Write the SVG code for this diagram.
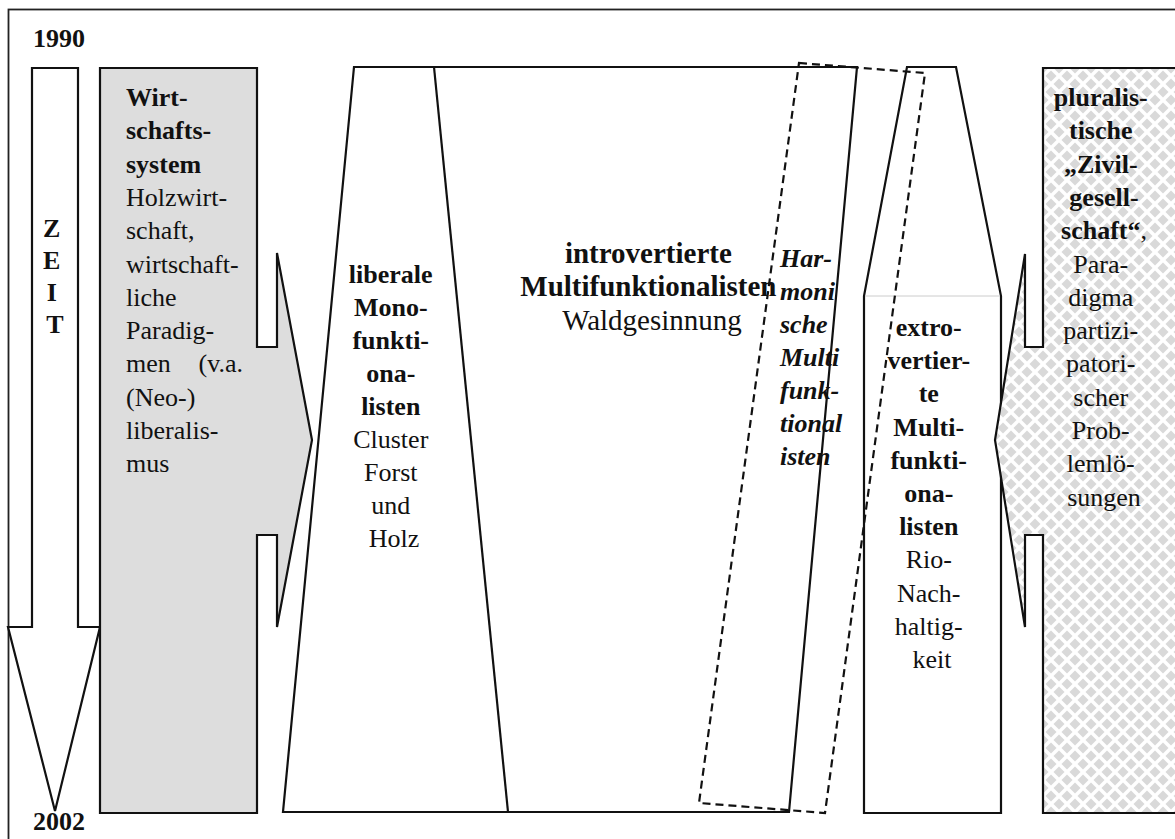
<svg xmlns="http://www.w3.org/2000/svg" width="1175" height="839" viewBox="0 0 1175 839">
  <defs>
    <style>
      .t { font-family: "Liberation Serif", "Tinos", "Times New Roman", serif; font-size: 26px; fill: #111; }
      .big { font-size: 29px; }
      .b { font-weight: bold; }
      .bi { font-weight: bold; font-style: italic; }
      .n { font-weight: normal; }
      .mid { text-anchor: middle; }
      .shape { stroke: #111; stroke-width: 2.2; stroke-linejoin: miter; }
      .dash { fill: none; stroke: #111; stroke-width: 2.2; stroke-dasharray: 8 5; }
    </style>
    <!-- light grey diamond lattice used for the civil-society column -->
    <pattern id="diamonds" x="1043" y="68" width="16" height="16" patternUnits="userSpaceOnUse">
      <rect width="16" height="16" fill="#ffffff"/>
      <path d="M8 2.5 L13.5 8 L8 13.5 L2.5 8 Z M0 0 L5.5 0 L0 5.5 Z M16 0 L10.5 0 L16 5.5 Z M0 16 L5.5 16 L0 10.5 Z M16 16 L10.5 16 L16 10.5 Z" fill="#d9d9d9"/>
    </pattern>
  </defs>

  <rect width="1175" height="839" fill="#ffffff"/>

  <!-- outer frame -->
  <g id="frame">
    <rect x="8.5" y="9.5" width="1200" height="900" fill="none" stroke="#222" stroke-width="1.8"/>
  </g>

  <!-- time axis -->
  <g id="zeit">
    <polygon class="shape" fill="#ffffff" points="32,68 78,68 78,627 100,627 55,811 8,627 32,627"/>
    <text class="t b mid">
      <tspan x="55" y="237">Z</tspan>
      <tspan x="55" y="269">E</tspan>
      <tspan x="55" y="301">I</tspan>
      <tspan x="55" y="333">T</tspan>
    </text>
    <text class="t b" x="33" y="47">1990</text>
    <text class="t b" x="33" y="830">2002</text>
  </g>

  <!-- economic system with arrow to the right -->
  <g id="wirtschaftssystem">
    <path class="shape" fill="#dddddd" d="M100 68 H257 V347 H277 V253 L312 440 L277 627 V535 H257 V813 H100 Z"/>
    <text class="t" x="126" y="106">
      <tspan class="b" x="126" y="106">Wirt-</tspan>
      <tspan class="b" x="126" y="139.3">schafts-</tspan>
      <tspan class="b" x="126" y="172.6">system</tspan>
      <tspan x="126" y="205.9">Holzwirt-</tspan>
      <tspan x="126" y="239.2">schaft,</tspan>
      <tspan x="126" y="272.5">wirtschaft-</tspan>
      <tspan x="126" y="305.8">liche</tspan>
      <tspan x="126" y="339.1">Paradig-</tspan>
      <tspan x="126" y="372.4">men</tspan>
      <tspan x="126" y="405.7">(Neo-)</tspan>
      <tspan x="126" y="439">liberalis-</tspan>
      <tspan x="126" y="472.3">mus</tspan>
    </text>
    <text class="t" x="243" y="372.4" text-anchor="end">(v.a.</text>
  </g>

  <!-- multifunctional block with liberal mono-functional wedge -->
  <g id="introvertierte">
    <polygon class="shape" fill="#ffffff" points="354,67 857,67 789,812 283,812"/>
    <text class="t big mid">
      <tspan class="b" x="652" y="263">introvertierte</tspan>
      <tspan class="b" x="652" y="296.3">Multifunktionalisten</tspan>
      <tspan x="652" y="329.6">Waldgesinnung</tspan>
    </text>
  </g>

  <g id="liberale">
    <line class="shape" x1="434" y1="67" x2="508" y2="812"/>
    <text class="t mid">
      <tspan class="b" x="394" y="283">liberale</tspan>
      <tspan class="b" x="394" y="316">Mono-</tspan>
      <tspan class="b" x="394" y="349">funkti-</tspan>
      <tspan class="b" x="394" y="382">ona-</tspan>
      <tspan class="b" x="394" y="415">listen</tspan>
      <tspan x="394" y="448">Cluster</tspan>
      <tspan x="394" y="481">Forst</tspan>
      <tspan x="394" y="514">und</tspan>
      <tspan x="394" y="547">Holz</tspan>
    </text>
  </g>

  <!-- extroverted multifunctionalists -->
  <g id="extrovertierte">
    <polygon class="shape" fill="#ffffff" points="907,67 956,67 1001,296 1001,813 864,813 864,296"/>
    <line x1="865" y1="296" x2="1000" y2="296" stroke="#cccccc" stroke-width="1"/>
    <text class="t mid">
      <tspan class="b" x="932" y="336">extro-</tspan>
      <tspan class="b" x="932" y="369.2">vertier-</tspan>
      <tspan class="b" x="932" y="402.4">te</tspan>
      <tspan class="b" x="932" y="435.6">Multi-</tspan>
      <tspan class="b" x="932" y="468.8">funkti-</tspan>
      <tspan class="b" x="932" y="502">ona-</tspan>
      <tspan class="b" x="932" y="535.2">listen</tspan>
      <tspan x="932" y="568.4">Rio-</tspan>
      <tspan x="932" y="601.6">Nach-</tspan>
      <tspan x="932" y="634.8">haltig-</tspan>
      <tspan x="932" y="668">keit</tspan>
    </text>
  </g>

  <!-- pluralistic civil society with arrow to the left -->
  <g id="zivilgesellschaft">
    <path class="shape" fill="url(#diamonds)" d="M1043 68 H1200 V813 H1043 V535 H1025 V627 L995 440 L1025 254 V347 H1043 Z"/>
    <text class="t mid">
      <tspan class="b" x="1104" y="106">pluralis-</tspan>
      <tspan class="b" x="1104" y="139.3">tische</tspan>
      <tspan class="b" x="1104" y="172.6">„Zivil-</tspan>
      <tspan class="b" x="1104" y="205.9">gesell-</tspan>
    </text>
    <text class="t mid" x="1104" y="239.2"><tspan class="b">schaft“</tspan><tspan class="n">,</tspan></text>
    <text class="t mid">
      <tspan x="1104" y="272.5">Para-</tspan>
      <tspan x="1104" y="305.8">digma</tspan>
      <tspan x="1104" y="339.1">partizi-</tspan>
      <tspan x="1104" y="372.4">patori-</tspan>
      <tspan x="1104" y="405.7">scher</tspan>
      <tspan x="1104" y="439">Prob-</tspan>
      <tspan x="1104" y="472.3">lemlö-</tspan>
      <tspan x="1104" y="505.6">sungen</tspan>
    </text>
  </g>

  <!-- harmonic multifunctionalists: dashed band laid over the others -->
  <g id="harmonische">
    <polygon class="dash" points="799,63 925,73 825,813 699,803"/>
    <text class="t bi">
      <tspan x="780" y="267">Har-</tspan>
      <tspan x="780" y="300">moni</tspan>
      <tspan x="780" y="333">sche</tspan>
      <tspan x="780" y="366">Multi</tspan>
      <tspan x="780" y="399">funk-</tspan>
      <tspan x="780" y="432">tional</tspan>
      <tspan x="780" y="465">isten</tspan>
    </text>
  </g>
</svg>
